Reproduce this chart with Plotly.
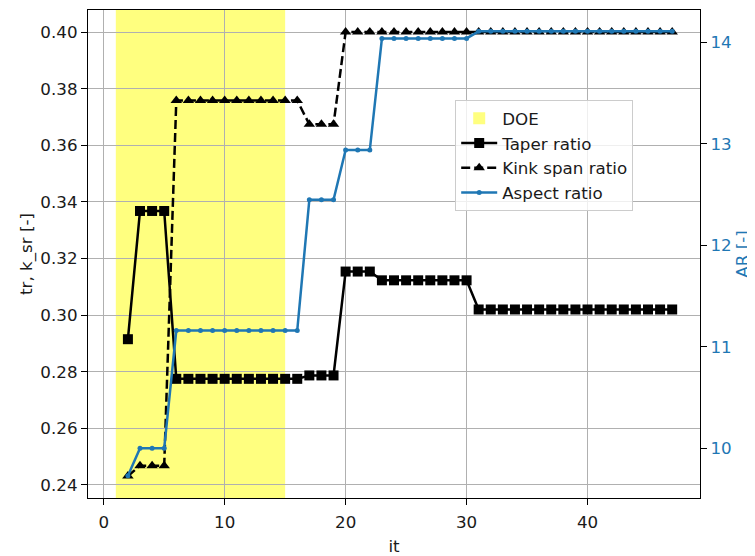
import plotly.graph_objects as go

# ---- data ----
iterations = list(range(2, 48))

taper_ratio = ([0.2915] + [0.3368] * 3 + [0.2775] * 11 + [0.2787] * 3 +
               [0.3154] * 3 + [0.3123] * 8 + [0.3020] * 17)
kink_span_ratio = ([0.2432] + [0.2468] * 3 + [0.3758] * 11 + [0.3674] * 3 +
                   [0.4000] * 28)
aspect_ratio = ([9.73] + [10.0] * 3 + [11.16] * 11 + [12.45] * 3 +
                [12.94] * 3 + [14.04] * 8 + [14.11] * 17)

doe_start, doe_end = 1, 15

x_ticks = [0, 10, 20, 30, 40]
left_ticks = [0.24, 0.26, 0.28, 0.30, 0.32, 0.34, 0.36, 0.38, 0.40]
right_ticks = [10, 11, 12, 13, 14]

BLUE = "#1f77b4"
FONT = "DejaVu Sans"
FS = 16.7
TXT = "#1a1a1a"

fig = go.Figure()

fig.add_trace(go.Scatter(
    x=iterations, y=taper_ratio, name="Taper ratio", mode="lines+markers",
    line=dict(color="black", width=2.5),
    marker=dict(symbol="square", size=10, color="black"),
))
fig.add_trace(go.Scatter(
    x=iterations, y=kink_span_ratio, name="Kink span ratio", mode="lines+markers",
    line=dict(color="black", width=2.5, dash="9px,4px"),
    marker=dict(symbol="triangle-up", size=10, color="black"),
))
fig.add_trace(go.Scatter(
    x=iterations, y=aspect_ratio, name="Aspect ratio", mode="lines+markers",
    yaxis="y2",
    line=dict(color=BLUE, width=2.5),
    marker=dict(symbol="circle", size=5, color=BLUE),
))

fig.add_shape(
    type="rect", xref="x", yref="y domain",
    x0=doe_start, x1=doe_end, y0=0, y1=1,
    fillcolor="rgba(255,255,0,0.5)", line=dict(width=0),
    layer="below", showlegend=True, name="DOE", legendrank=1,
)

axis_common = dict(
    showline=True, linecolor="black", linewidth=1.3,
    ticks="outside", ticklen=6, tickcolor="black", tickwidth=1.3,
    zeroline=False, automargin=False,
    tickfont=dict(family=FONT, size=FS, color=TXT),
)

# the page adds an 8px body margin, so the figure is sized to fit after it
fig.update_layout(
    width=747, height=548,
    margin=dict(l=80, r=55, t=2, b=58),
    paper_bgcolor="white", plot_bgcolor="white",
    font=dict(family=FONT, size=FS, color=TXT),
    xaxis=dict(
        range=[-1.3, 49.3], tickvals=x_ticks, mirror=True,
        showgrid=True, gridcolor="#b0b0b0", gridwidth=1.1,
        ticklabelstandoff=3,
        title=dict(text="it", font=dict(family=FONT, size=FS, color=TXT), standoff=9),
        **axis_common,
    ),
    yaxis=dict(
        range=[0.2354, 0.4078], tickvals=left_ticks, tickformat=".2f",
        mirror=True, showgrid=True, gridcolor="#b0b0b0", gridwidth=1.1,
        title=dict(text="tr, k_sr [-]", font=dict(family=FONT, size=FS, color=TXT), standoff=3),
        **axis_common,
    ),
    yaxis2=dict(
        overlaying="y", side="right", anchor="x",
        range=[9.51, 14.32], tickvals=right_ticks, showgrid=False,
        showline=True, linecolor="black", linewidth=1.3,
        ticks="outside", ticklen=6, tickcolor="black", tickwidth=1.3,
        zeroline=False, automargin=False,
        tickfont=dict(family=FONT, size=FS, color=BLUE),
        title=dict(text="AR [-]", font=dict(family=FONT, size=FS, color=BLUE), standoff=2),
    ),
    legend=dict(
        x=0.6, y=0.8156, xanchor="left", yanchor="top",
        bgcolor="rgba(255,255,255,0.8)", bordercolor="#cccccc", borderwidth=1,
        font=dict(family=FONT, size=FS, color=TXT), itemwidth=36,
    ),
)

fig.write_html("out.html")
